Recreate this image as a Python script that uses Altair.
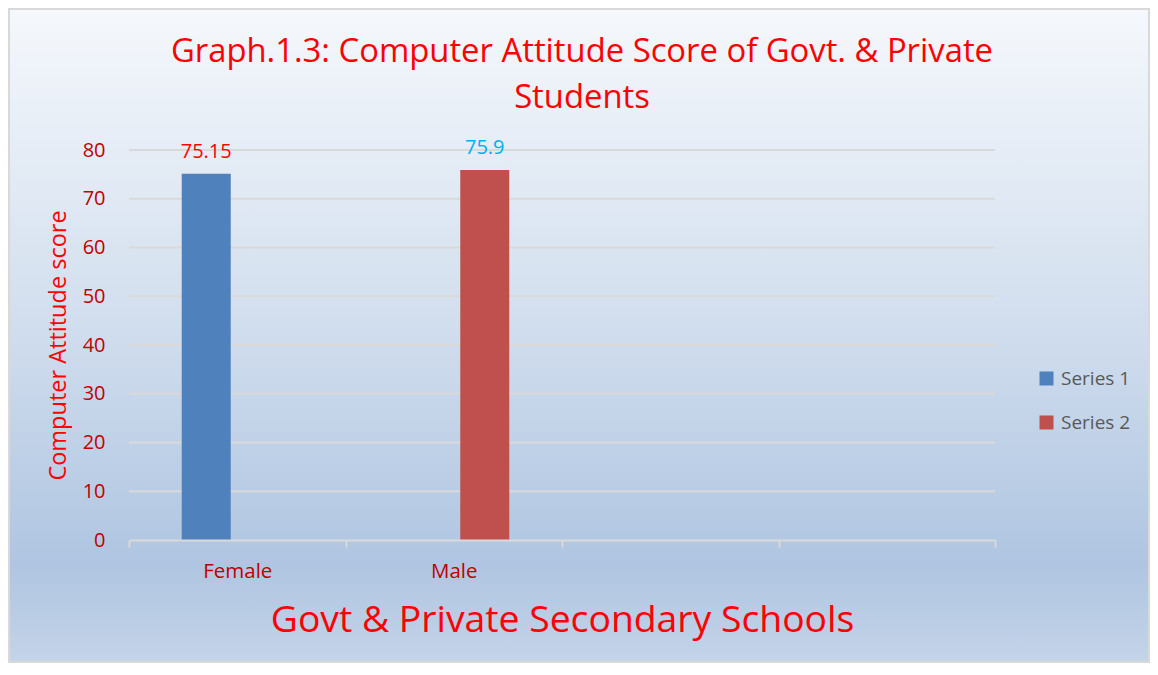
import altair as alt
import pandas as pd

# ---- data ----
categories = ["Female", "Male", "Cat 3", "Cat 4"]
series_names = ["Series 1", "Series 2"]
bar_category = ["Female", "Male"]
bar_series = ["Series 1", "Series 2"]
bar_values = [75.15, 75.9]
bar_labels = ["75.15", "75.9"]
label_colors = ["#FF0000", "#00B0F0"]
y_ticks = [0, 10, 20, 30, 40, 50, 60, 70, 80]

title_line1 = "Graph.1.3: Computer Attitude Score of Govt. & Private"
title_line2 = "Students"
x_title = "Govt & Private Secondary Schools"
y_title = "Computer Attitude score"

FONT = "Open Sans"
W, H = 866, 390
PAD = {"left": 121, "top": 142, "right": 155, "bottom": 123}

bars_df = pd.DataFrame({
    "category": bar_category,
    "series": bar_series,
    "value": bar_values,
    "label": bar_labels,
    "labelColor": label_colors,
})
grid_df = pd.DataFrame({"tick": y_ticks})
one = pd.DataFrame({"k": [0]})

x_enc = alt.X(
    "category:N",
    scale=alt.Scale(domain=categories, paddingInner=0, paddingOuter=0),
    axis=alt.Axis(
        title=x_title,
        titleFontSize=37.3, titleColor="#FF0000", titleFont=FONT, titleFontWeight="normal",
        titleY=80, titleBaseline="middle",
        labelExpr="datum.value == 'Female' || datum.value == 'Male' ? datum.value : ''",
        labelAngle=0, labelFontSize=20.5, labelColor="#C00000", labelFont=FONT, labelPadding=14,
        tickBand="extent", ticks=True, tickColor="#D9D9D9", tickWidth=2, tickSize=7,
        domain=True, domainColor="#D9D9D9", domainWidth=2,
        grid=False, zindex=2,
    ),
)
xoff_enc = alt.XOffset(
    "series:N", scale=alt.Scale(domain=series_names, paddingInner=0.21, paddingOuter=0.85)
)
y_scale = alt.Scale(domain=[0, 80], nice=False)
y_axis = alt.Axis(
    values=y_ticks, title=y_title, grid=False, ticks=False, domain=False,
    labelFontSize=20, labelColor="#C00000", labelFont=FONT, labelPadding=24,
    titleFontSize=23.5, titleColor="#FF0000", titleFont=FONT, titleFontWeight="normal",
    titleAngle=270, titleX=-71, titleY=H / 2, titleBaseline="middle", titleAlign="center",
    zindex=2,
)

background = alt.Chart(one).mark_rect(
    stroke="#D9D9D9", strokeWidth=2,
    color=alt.Gradient(
        gradient="linear", x1=0, y1=0, x2=0, y2=1,
        stops=[
            alt.GradientStop(color="#F5F8FC", offset=0),
            alt.GradientStop(color="#D4E0EF", offset=0.45),
            alt.GradientStop(color="#AFC5E1", offset=0.85),
            alt.GradientStop(color="#C4D4E9", offset=1),
        ],
    ),
).encode(
    x=alt.value(-PAD["left"] + 1), x2=alt.value(W + PAD["right"] - 1),
    y=alt.value(-PAD["top"] + 1), y2=alt.value(H + PAD["bottom"] - 1),
)

grid = alt.Chart(grid_df).transform_filter("datum.tick > 0").mark_rule(
    color="#D9D9D9", strokeWidth=2
).encode(
    y=alt.Y("tick:Q", scale=y_scale, axis=y_axis),
)

bars = alt.Chart(bars_df).mark_bar().encode(
    x=x_enc,
    xOffset=xoff_enc,
    y=alt.Y("value:Q", scale=y_scale, axis=y_axis),
    color=alt.Color(
        "series:N",
        scale=alt.Scale(domain=series_names, range=["#4F81BD", "#C0504D"]),
        legend=alt.Legend(
            orient="none", legendX=908, legendY=219, title=None,
            symbolType="square", symbolSize=196, symbolStrokeWidth=0,
            labelFontSize=19, labelColor="#595959", labelFont=FONT, labelOffset=5,
            rowPadding=24, padding=0, zindex=2,
        ),
    ),
)

labels = alt.Chart(bars_df).mark_text(
    baseline="bottom", dy=-12, fontSize=20, font=FONT
).encode(
    x=alt.X("category:N", scale=alt.Scale(domain=categories, paddingInner=0, paddingOuter=0)),
    xOffset=xoff_enc,
    y=alt.Y("value:Q", scale=y_scale),
    text="label:N",
    color=alt.Color("labelColor:N", scale=None, legend=None),
)

title1 = alt.Chart(one).mark_text(
    fontSize=32.8, font=FONT, color="#FF0000", baseline="middle", align="center"
).encode(x=alt.value(453), y=alt.value(-98), text=alt.value(title_line1))
title2 = alt.Chart(one).mark_text(
    fontSize=32.8, font=FONT, color="#FF0000", baseline="middle", align="center"
).encode(x=alt.value(453), y=alt.value(-52), text=alt.value(title_line2))

chart = alt.layer(background, grid, bars, labels, title1, title2).resolve_scale(
    color="independent"
).properties(
    width=W, height=H, padding=PAD, autosize=alt.AutoSizeParams(type="none"),
).configure_view(stroke=None)

chart.save("out.html", embed_options={"renderer": "svg", "actions": False})
